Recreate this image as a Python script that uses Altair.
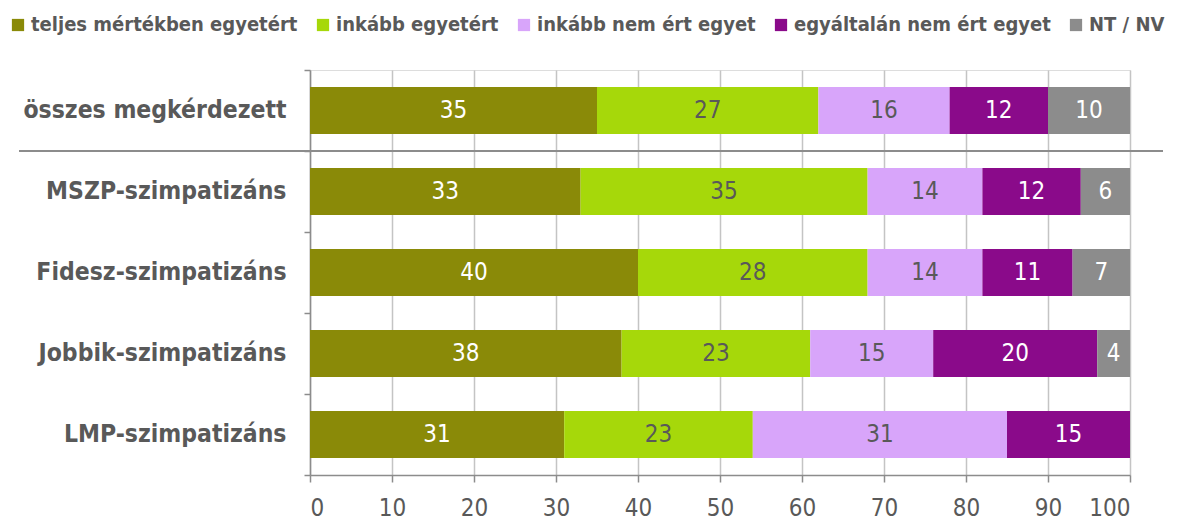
import altair as alt
import pandas as pd

categories = ["összes megkérdezett", "MSZP-szimpatizáns", "Fidesz-szimpatizáns",
              "Jobbik-szimpatizáns", "LMP-szimpatizáns"]
answers = ["teljes mértékben egyetért", "inkább egyetért", "inkább nem ért egyet",
           "egyáltalán nem ért egyet", "NT / NV"]
teljes = [35, 33, 40, 38, 31]
inkabb = [27, 35, 28, 23, 23]
inkabb_nem = [16, 14, 14, 15, 31]
egyaltalan = [12, 12, 11, 20, 15]
nt_nv = [10, 6, 7, 4, 0]
colors = ["#8A8A08", "#A6D80A", "#D8A5FA", "#8A0A8A", "#8C8C8C"]
label_colors = ["white", "#595959", "#595959", "white", "white"]
x_ticks = [0, 10, 20, 30, 40, 50, 60, 70, 80, 90, 100]

series = [teljes, inkabb, inkabb_nem, egyaltalan, nt_nv]
rows = []
for ci, cat in enumerate(categories):
    start = 0
    for ai, ans in enumerate(answers):
        v = series[ai][ci]
        if v > 0:
            rows.append({"cat": cat, "ans": ans, "order": ai, "value": v,
                         "start": start, "end": start + v, "mid": start + v / 2,
                         "tcolor": label_colors[ai]})
        start += v
df = pd.DataFrame(rows)

BOLD_FONT = "DejaVu Sans Condensed, DejaVu Sans, sans-serif"
NUM_FONT = "Liberation Sans Narrow, DejaVu Sans Condensed, sans-serif"
GRAY = "#595959"

xscale = alt.Scale(domain=[0, 100], nice=False, zero=True)
yscale = alt.Scale(domain=categories, paddingInner=0, paddingOuter=0)

base = alt.Chart(df)

bars = base.mark_bar(size=47).encode(
    x=alt.X("start:Q", scale=xscale, title=None,
            axis=alt.Axis(values=x_ticks, grid=True, gridColor="#C4C4C4", gridWidth=1.5,
                          domainColor="#8C8C8C", domainWidth=1.5, tickColor="#8C8C8C",
                          tickWidth=1.5, tickSize=7, labelFont=NUM_FONT, labelFontSize=24,
                          labelColor=GRAY, labelBaseline="alphabetic", labelPadding=33)),
    x2="end:Q",
    y=alt.Y("cat:N", scale=yscale, sort=categories, title=None,
            axis=alt.Axis(tickBand="extent", domainColor="#8C8C8C", domainWidth=1.5,
                          tickColor="#8C8C8C", tickWidth=1.5, tickSize=6,
                          labelFont=BOLD_FONT, labelFontWeight="bold", labelFontSize=24.5,
                          labelColor=GRAY, labelPadding=18, labelLimit=400, grid=False)),
    color=alt.Color("ans:N", scale=alt.Scale(domain=answers, range=colors), title=None,
                    legend=alt.Legend(orient="none", legendX=-302, legendY=-55,
                                      direction="horizontal", symbolType="square",
                                      symbolSize=150, symbolStrokeWidth=0,
                                      labelFont=BOLD_FONT, labelFontWeight="bold",
                                      labelFontSize=20, labelColor=GRAY, labelOffset=3,
                                      columnPadding=15, labelLimit=400)),
    order=alt.Order("order:Q"),
)

texts = base.mark_text(font=NUM_FONT, fontSize=24, baseline="middle", align="center").encode(
    x=alt.X("mid:Q", scale=xscale),
    y=alt.Y("cat:N", scale=yscale, sort=categories),
    text=alt.Text("value:Q"),
    color=alt.Color("tcolor:N", scale=None),
)

sep = alt.Chart(pd.DataFrame({"cat": [categories[0]]})).mark_rule(
    color="#8C8C8C", strokeWidth=2, clip=False).encode(
    y=alt.Y("cat:N", scale=yscale, sort=categories, bandPosition=1),
    x=alt.value(-291),
    x2=alt.value(853),
)

chart = alt.layer(bars, texts, sep).properties(
    width=820, height=405,
    autosize=alt.AutoSizeParams(type="none"),
    padding={"left": 302, "top": 62, "right": 41, "bottom": 45},
).configure_view(stroke=None).configure(background="white")

chart.save("out.html", embed_options={"renderer": "svg", "actions": False})
